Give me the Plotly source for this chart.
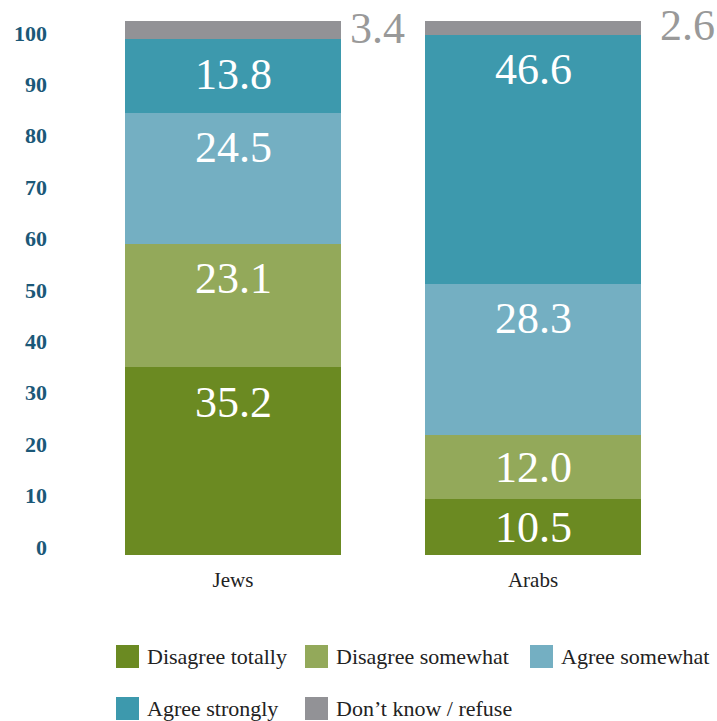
import plotly.graph_objects as go

# ---- data ----
categories = ["Jews", "Arabs"]
series_names = ["Disagree totally", "Disagree somewhat", "Agree somewhat",
                "Agree strongly", "Don’t know / refuse"]
disagree_totally = [35.2, 10.5]
disagree_somewhat = [23.1, 12.0]
agree_somewhat = [24.5, 28.3]
agree_strongly = [13.8, 46.6]
dont_know = [3.4, 2.6]
series_values = [disagree_totally, disagree_somewhat, agree_somewhat,
                 agree_strongly, dont_know]
tick_values = [0, 10, 20, 30, 40, 50, 60, 70, 80, 90, 100]

# ---- styles ----
colors = ["#6b8a22", "#93a95a", "#74afc2", "#3d99ad", "#929296"]
FONT = "Liberation Serif"
W, H = 717, 721
L, R, T, B = 83, 34, 21, 166
PW, PH = W - L - R, H - T - B
BAR_W = 0.723
LABEL_DROP = 34          # px from segment top to label centre
SIDE_GAP = [7, 17]       # px gap between bar and outside label, per column


def px_x(px):
    return (px - L) / PW


def px_y(py):
    return (H - B - py) / PH


fig = go.Figure()
for name, vals, col in zip(series_names, series_values, colors):
    fig.add_trace(go.Bar(x=categories, y=vals, name=name, marker_color=col,
                         marker_line_width=0, width=BAR_W, hoverinfo="skip"))

# invisible trace carrying the tick axis
fig.add_trace(go.Scatter(x=[categories[0]], y=[0], yaxis="y2", mode="markers",
                         marker=dict(opacity=0), showlegend=False, hoverinfo="skip"))

annotations = []
half_bar_px = BAR_W / 2 * (PW / len(categories))
px_per_unit = PH / 100
for ci, cat in enumerate(categories):
    cum = 0.0
    for si, vals in enumerate(series_values):
        v = vals[ci]
        if si == len(series_values) - 1:
            annotations.append(dict(x=cat, y=cum + v / 2, xref="x", yref="y",
                                    text=f"{v:.1f}", showarrow=False,
                                    xanchor="left", yanchor="middle",
                                    xshift=half_bar_px + SIDE_GAP[ci], yshift=2,
                                    font=dict(family=FONT, size=44, color="#999999")))
        else:
            drop = min(LABEL_DROP, v * px_per_unit / 2)
            annotations.append(dict(x=cat, y=cum + v, xref="x", yref="y",
                                    text=f"{v:.1f}", showarrow=False,
                                    xanchor="center", yanchor="middle",
                                    yshift=-(drop + 1),
                                    font=dict(family=FONT, size=44, color="white")))
        cum += v

# legend drawn as squares + labels
legend_pos = [(116, 645), (305, 645), (530, 645), (116, 697), (305, 697)]
shapes = []
SQ = 23
for (lx, ly), name, col in zip(legend_pos, series_names, colors):
    shapes.append(dict(type="rect", xref="paper", yref="paper",
                       x0=px_x(lx), x1=px_x(lx + SQ), y0=px_y(ly + SQ), y1=px_y(ly),
                       fillcolor=col, line=dict(width=0)))
    annotations.append(dict(x=px_x(lx + SQ + 6), y=px_y(ly + SQ / 2), xref="paper",
                            yref="paper", text=name, showarrow=False,
                            xanchor="left", yanchor="middle",
                            font=dict(family=FONT, size=22, color="#222222")))

fig.update_layout(
    barmode="stack",
    width=W, height=H,
    margin=dict(l=L, r=R, t=T, b=B, autoexpand=False),
    plot_bgcolor="white", paper_bgcolor="white",
    showlegend=False,
    font=dict(family=FONT),
    xaxis=dict(range=[-0.5, 1.5], showgrid=False, zeroline=False, showline=False,
               ticks="", ticklabelstandoff=10,
               tickfont=dict(family=FONT, size=21, color="#222222")),
    yaxis=dict(range=[0, 100], visible=False),
    yaxis2=dict(overlaying="y", side="left", range=[-1.56, 102.3],
                tickvals=tick_values, showgrid=False, zeroline=False, showline=False,
                ticks="", ticklabelstandoff=35,
                tickfont=dict(family=FONT, size=22, color="#1b5878", weight="bold")),
    annotations=annotations,
    shapes=shapes,
)

fig.write_html("out.html")
